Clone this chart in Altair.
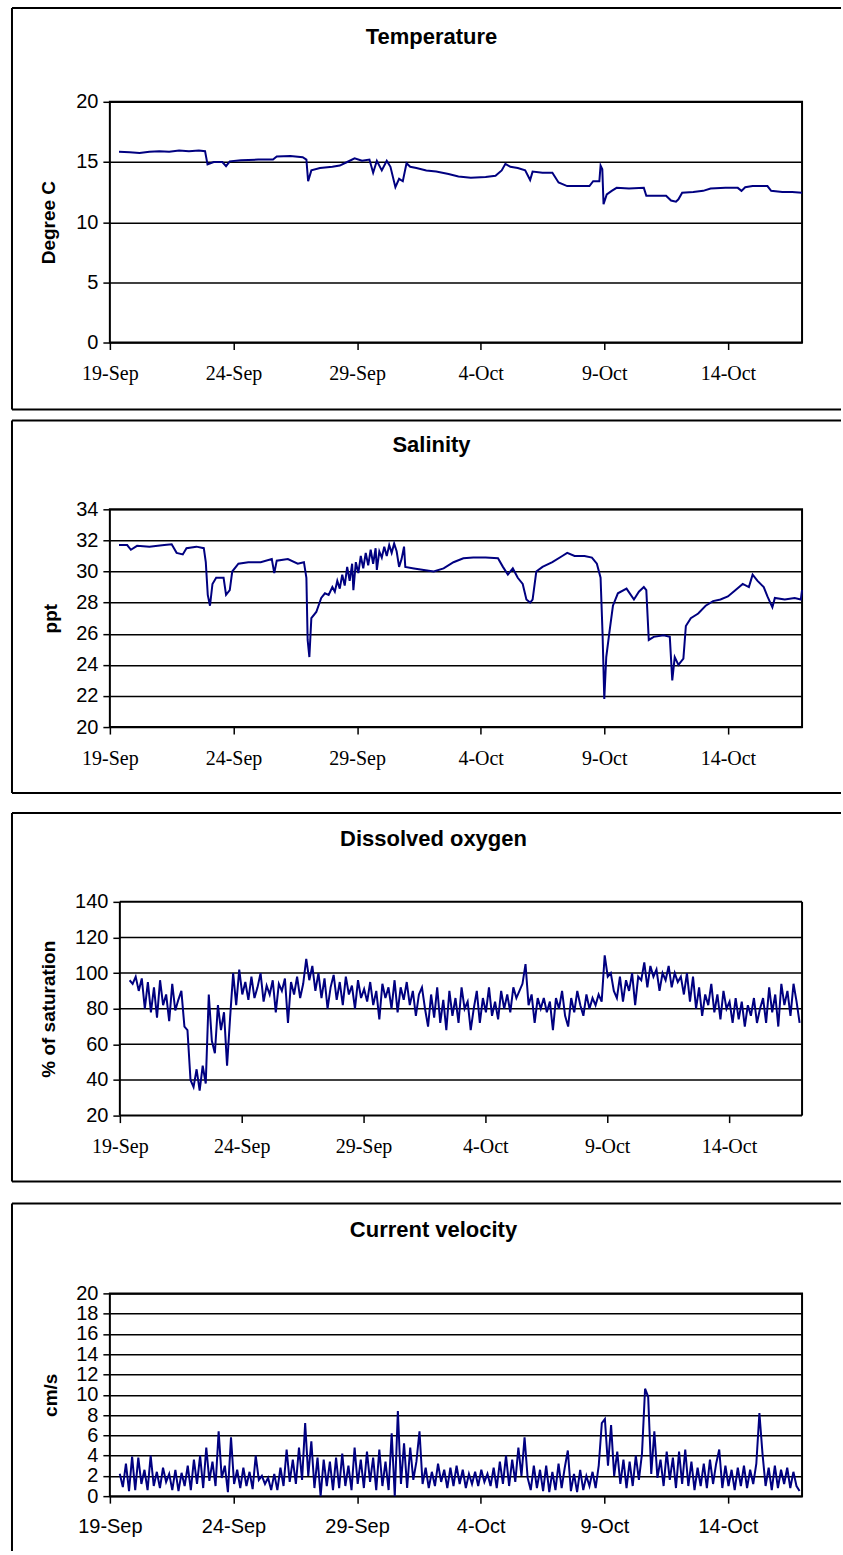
import altair as alt
import pandas as pd

BASE = pd.Timestamp("2006-09-19")

# ---------------- data (days after 19-Sep, values) ----------------
temp_days = [0.37, 0.8, 1.2, 1.6, 2.0, 2.4, 2.8, 3.2, 3.6, 3.85,
             3.95, 4.2, 4.55, 4.7, 4.85, 5.3, 6.0, 6.6, 6.75, 7.3,
             7.8, 7.95, 8.02, 8.15, 8.5, 9.0, 9.3, 9.6, 9.9, 10.2,
             10.5, 10.65, 10.8, 11.0, 11.2, 11.35, 11.55, 11.7, 11.85, 12.0,
             12.15, 12.4, 12.8, 13.2, 13.7, 14.1, 14.6, 15.2, 15.6, 15.85,
             16.0, 16.2, 16.5, 16.8, 17.0, 17.1, 17.5, 17.9, 18.15, 18.5,
             19.0, 19.4, 19.55, 19.8, 19.85, 19.92, 19.97, 20.1, 20.3, 20.5,
             21.0, 21.6, 21.7, 22.2, 22.5, 22.7, 22.9, 23.0, 23.15, 23.6,
             24.0, 24.3, 24.9, 25.4, 25.55, 25.7, 26.0, 26.6, 26.75, 27.2,
             27.6, 28.0]
temp_vals = [15.85, 15.8, 15.75, 15.85, 15.9, 15.85, 15.95, 15.9, 15.95, 15.9,
             14.8, 15.0, 15.0, 14.65, 15.05, 15.15, 15.2, 15.2, 15.45, 15.5,
             15.4, 15.2, 13.4, 14.3, 14.5, 14.6, 14.7, 15.0, 15.3, 15.1,
             15.2, 14.1, 15.1, 14.3, 15.1, 14.6, 12.9, 13.6, 13.4, 14.9,
             14.6, 14.5, 14.3, 14.2, 14.0, 13.8, 13.7, 13.75, 13.85, 14.3,
             14.85, 14.6, 14.5, 14.3, 13.5, 14.2, 14.1, 14.1, 13.3, 13.0,
             13.0, 13.0, 13.4, 13.4, 14.7, 14.4, 11.5, 12.3, 12.6, 12.85,
             12.8, 12.85, 12.2, 12.2, 12.2, 11.8, 11.7, 11.9, 12.45, 12.5,
             12.6, 12.8, 12.85, 12.85, 12.6, 12.9, 13.0, 13.0, 12.6, 12.5,
             12.5, 12.45]

sal_days = [0.37, 0.7, 0.85, 1.1, 1.6, 2.2, 2.5, 2.7, 2.95, 3.1,
            3.5, 3.8, 3.88, 3.96, 4.05, 4.15, 4.3, 4.6, 4.7, 4.85,
            4.95, 5.2, 5.6, 6.1, 6.55, 6.65, 6.75, 7.2, 7.6, 7.85,
            7.95, 8.0, 8.07, 8.15, 8.35, 8.55, 8.7, 8.85, 9.0, 9.1,
            9.2, 9.3, 9.4, 9.5, 9.6, 9.7, 9.8, 9.85, 9.95, 10.05,
            10.15, 10.25, 10.35, 10.45, 10.55, 10.65, 10.75, 10.8, 10.9, 11.0,
            11.1, 11.2, 11.3, 11.4, 11.5, 11.6, 11.7, 11.8, 11.9, 11.95,
            12.3, 12.7, 13.1, 13.5, 13.9, 14.3, 14.7, 15.2, 15.7, 15.9,
            16.1, 16.3, 16.5, 16.7, 16.85, 17.0, 17.1, 17.25, 17.5, 17.9,
            18.3, 18.5, 18.8, 19.2, 19.5, 19.7, 19.85, 19.93, 20.0, 20.08,
            20.2, 20.35, 20.55, 20.9, 21.2, 21.4, 21.6, 21.7, 21.8, 22.0,
            22.4, 22.65, 22.75, 22.85, 23.0, 23.2, 23.3, 23.5, 23.8, 24.1,
            24.4, 24.7, 25.0, 25.3, 25.6, 25.85, 26.0, 26.2, 26.45, 26.6,
            26.8, 26.9, 27.3, 27.7, 27.95, 28.0]
sal_vals = [31.7, 31.7, 31.4, 31.65, 31.6, 31.7, 31.75, 31.2, 31.1, 31.5,
            31.6, 31.5, 30.6, 28.5, 27.8, 29.2, 29.6, 29.6, 28.5, 28.8,
            30.0, 30.5, 30.6, 30.6, 30.8, 29.9, 30.7, 30.8, 30.5, 30.6,
            29.6, 25.6, 24.5, 27.0, 27.4, 28.3, 28.6, 28.5, 29.0, 28.7,
            29.4, 28.9, 29.8, 29.1, 30.3, 29.4, 30.5, 28.8, 30.6, 29.9,
            31.0, 30.2, 31.2, 30.4, 31.4, 30.5, 31.5, 30.1, 31.3, 30.9,
            31.6, 31.0, 31.7, 31.2, 31.8, 31.3, 30.3, 30.8, 31.6, 30.3,
            30.2, 30.1, 30.0, 30.2, 30.6, 30.85, 30.9, 30.9, 30.85, 30.3,
            29.8, 30.2, 29.6, 29.2, 28.2, 28.0, 28.2, 30.0, 30.3, 30.6,
            31.0, 31.2, 31.0, 31.0, 30.9, 30.5, 29.6, 26.0, 21.8, 24.5,
            26.0, 27.8, 28.6, 28.9, 28.2, 28.7, 29.0, 28.8, 25.6, 25.8,
            25.9, 25.8, 23.0, 24.5, 24.0, 24.4, 26.5, 27.0, 27.3, 27.8,
            28.1, 28.2, 28.4, 28.8, 29.2, 29.0, 29.8, 29.4, 29.0, 28.4,
            27.7, 28.3, 28.2, 28.3, 28.2, 28.8]

# dissolved oxygen and current velocity: readings every 3 hours from day 0.4
reg_start = 0.4
reg_step = 0.125
do_vals = [96, 94, 98, 90, 97, 80, 95, 78,
           92, 75, 96, 82, 88, 73, 94, 79,
           85, 90, 70, 68, 40, 36, 46, 34,
           48, 38, 88, 62, 55, 82, 68, 78,
           48, 75, 100, 82, 102, 88, 95, 85,
           98, 86, 92, 100, 84, 93, 88, 96,
           78, 94, 90, 97, 72, 95, 88, 98,
           86, 94, 108, 96, 104, 90, 100, 86,
           97, 80, 92, 99, 85, 95, 82, 98,
           88, 93, 80, 96, 86, 91, 84, 95,
           82, 90, 74, 94, 86, 92, 80, 96,
           78, 92, 85, 95, 82, 90, 76, 88,
           92, 80, 70, 88, 75, 92, 72, 85,
           68, 90, 76, 86, 72, 92, 80, 84,
           68, 80, 90, 72, 86, 78, 92, 76,
           84, 74, 90, 80, 88, 78, 92, 86,
           90, 94, 105, 82, 88, 72, 86, 80,
           86, 78, 84, 68, 86, 80, 90, 76,
           70, 86, 78, 90, 82, 76, 88, 80,
           86, 82, 88, 84, 110, 98, 100, 90,
           86, 98, 84, 96, 90, 100, 82, 98,
           96, 106, 92, 104, 98, 102, 90, 100,
           96, 104, 92, 100, 95, 98, 88, 100,
           84, 98, 80, 92, 76, 88, 82, 94,
           78, 88, 74, 90, 80, 84, 72, 86,
           74, 84, 70, 82, 76, 86, 72, 80,
           86, 72, 92, 78, 88, 70, 94, 82,
           90, 76, 94, 84, 72]
vel_vals = [2.2, 0.9, 3.2, 0.5, 3.9, 0.6, 3.8, 1.2,
            2.6, 0.6, 4.0, 1.0, 2.4, 0.8, 2.8, 1.4,
            2.2, 0.6, 2.6, 0.5, 2.3, 1.0, 3.0, 0.6,
            3.6, 1.2, 4.0, 0.8, 4.8, 1.5, 3.4, 1.0,
            6.4, 1.8, 3.0, 0.4, 5.8, 1.2, 2.6, 0.8,
            2.8, 1.0, 2.4, 0.7, 4.0, 1.6, 2.0, 1.2,
            1.8, 0.6, 2.2, 0.6, 2.8, 1.0, 4.6, 1.4,
            3.6, 1.2, 4.8, 1.6, 7.2, 2.0, 5.4, 0.8,
            3.8, 0.0, 3.6, 1.0, 3.4, 0.6, 3.8, 0.8,
            4.2, 1.0, 3.0, 0.6, 4.8, 1.2, 3.6, 0.8,
            4.4, 1.4, 3.8, 0.6, 4.6, 1.0, 3.4, 0.6,
            6.2, 0.0, 8.4, 1.2, 5.2, 0.8, 4.8, 1.6,
            3.4, 6.4, 1.2, 2.8, 0.8, 2.4, 1.0, 3.2,
            1.4, 2.6, 0.8, 2.8, 1.0, 3.0, 1.2, 2.6,
            0.8, 2.2, 1.2, 2.4, 1.0, 2.6, 1.4, 2.2,
            1.0, 2.8, 0.8, 3.4, 1.2, 4.0, 1.0, 3.6,
            1.4, 4.8, 2.0, 5.8, 1.8, 0.6, 3.0, 0.8,
            2.6, 0.5, 3.0, 0.4, 2.4, 0.6, 3.2, 0.8,
            2.8, 4.5, 0.5, 2.2, 0.4, 2.6, 0.6, 2.0,
            1.0, 2.4, 0.8, 3.0, 7.2, 7.6, 3.0, 7.0,
            2.0, 4.4, 1.2, 3.6, 0.8, 3.4, 1.0, 4.0,
            1.6, 4.2, 10.6, 9.8, 2.2, 6.4, 1.8, 3.6,
            1.0, 4.4, 1.6, 3.8, 0.8, 4.4, 1.2, 4.6,
            1.0, 3.4, 0.6, 2.8, 1.0, 3.2, 0.8, 3.6,
            1.2, 3.2, 4.6, 0.8, 3.0, 1.0, 2.6, 0.6,
            2.8, 1.0, 3.0, 0.8, 2.6, 1.2, 3.2, 8.2,
            4.2, 1.0, 2.8, 0.6, 3.0, 0.8, 2.6, 1.2,
            2.8, 0.8, 2.4, 1.0, 0.5]

tick_days = [19, 24, 29, 4, 9, 14]
tick_months = [9, 9, 9, 10, 10, 10]

# ---------------- helpers ----------------
def make_df(days, vals):
    t = (BASE + pd.to_timedelta(days, unit="D")).strftime("%Y-%m-%dT%H:%M:%S")
    return pd.DataFrame({"t": list(t), "v": vals})

def reg_days(n):
    return [reg_start + reg_step * i for i in range(n)]

one = pd.DataFrame({"k": [0]})
x_ticks = [alt.DateTime(year=2006, month=m, date=d) for d, m in zip(tick_days, tick_months)]
x_domain = [alt.DateTime(year=2006, month=9, date=19), alt.DateTime(year=2006, month=10, date=17)]

NAVY = "#000080"
W = 693
FX = -98       # frame left relative to plot origin
XR = 732       # frame right end relative to plot origin


def rule(**enc):
    return alt.Chart(one).mark_rule(color="black", strokeWidth=2).encode(
        **{k: alt.value(v) for k, v in enc.items()})


def panel(df, title, ytitle, ylo, yhi, ystep, h, ftop, fbot, tx, ty, ytx,
          xfont, xpad, inset=0, pad_bottom=None, bottom_line=True):
    xscale = alt.Scale(domain=x_domain) if inset == 0 else alt.Scale(domain=x_domain, range=[inset, W])
    yscale = alt.Scale(domain=[ylo, yhi], nice=False, zero=False)
    yticks = list(range(ylo, yhi + 1, ystep))
    yaxis = alt.Axis(values=yticks, title=ytitle,
                     labelFont="Liberation Sans", labelFontSize=20,
                     labelColor="black", labelPadding=5,
                     tickColor="black", tickSize=7, tickWidth=1.5,
                     grid=(inset == 0), gridColor="black", gridWidth=1.5,
                     domain=False, offset=-inset,
                     titleFont="Liberation Sans", titleFontSize=19,
                     titleFontWeight="bold", titleColor="black",
                     titleAngle=270, titleX=ytx, titleY=h / 2,
                     titleAlign="center", titleBaseline="middle")
    xaxis = alt.Axis(values=x_ticks, format="%-d-%b", title=None,
                     labelFont=xfont, labelFontSize=20, labelColor="black",
                     labelFlush=False, labelOverlap=False, labelPadding=xpad,
                     tickColor="black", tickSize=7, tickWidth=1.5,
                     grid=False, domain=False)
    line = alt.Chart(df).mark_line(color=NAVY, strokeWidth=2).encode(
        x=alt.X("t:T", scale=xscale, axis=xaxis),
        y=alt.Y("v:Q", scale=yscale, axis=yaxis),
    )
    layers = [rule(x=FX, y=ftop, y2=fbot), rule(x=FX, x2=XR, y=ftop)]
    if bottom_line:
        layers.append(rule(x=FX, x2=XR, y=fbot))
    if pad_bottom is not None:
        layers.append(alt.Chart(one).mark_rule(color="white", strokeOpacity=0).encode(
            x=alt.value(FX), x2=alt.value(FX + 1), y=alt.value(pad_bottom)))
    layers.append(alt.Chart(one).mark_text(
        font="Liberation Sans", fontSize=22, fontWeight="bold", color="black",
        align="center", baseline="alphabetic").encode(
        x=alt.value(tx), y=alt.value(ty), text=alt.value(title)))
    props = dict(width=W, height=h)
    if inset:
        # plot box and grid drawn by hand because the data rectangle is inset
        grid_df = pd.DataFrame({"g": yticks[1:-1]})
        layers.append(alt.Chart(grid_df).mark_rule(color="black", strokeWidth=1.5).encode(
            y=alt.Y("g:Q", scale=yscale, axis=yaxis),
            x=alt.value(inset), x2=alt.value(W)))
        layers += [rule(x=inset, y=0, y2=h), rule(x=W, y=0, y2=h),
                   rule(x=inset, x2=W, y=0), rule(x=inset, x2=W, y=h)]
        props["view"] = alt.ViewConfig(stroke="transparent")
    layers.append(line)
    return alt.layer(*layers).properties(**props)


p1 = panel(make_df(temp_days, temp_vals), "Temperature", "Degree C", 0, 20, 5,
           241, -94, 308, 322, -58, -61, "Liberation Serif", 14)
p2 = panel(make_df(sal_days, sal_vals), "Salinity", "ppt", 20, 34, 2,
           218, -89, 284, 322, -57, -59, "Liberation Serif", 14, pad_bottom=294)
p3 = panel(make_df(reg_days(len(do_vals)), do_vals), "Dissolved oxygen", "% of saturation",
           20, 140, 20, 214, -89, 280, 324, -56, -71, "Liberation Serif", 14,
           inset=10, pad_bottom=292)
p4 = panel(make_df(reg_days(len(vel_vals)), vel_vals), "Current velocity", "cm/s",
           0, 20, 2, 203, -90, 258, 324, -56, -59, "Liberation Sans", 13,
           bottom_line=False)

chart = alt.ConcatChart(concat=[p1, p2, p3, p4], columns=1, spacing=7,
                        bounds="full").properties(
    padding={"left": 10, "top": 5, "right": 0, "bottom": 0},
    background="white",
).configure_view(stroke="black", strokeWidth=2)

chart.save("out.html", embed_options={"renderer": "svg", "actions": False})
